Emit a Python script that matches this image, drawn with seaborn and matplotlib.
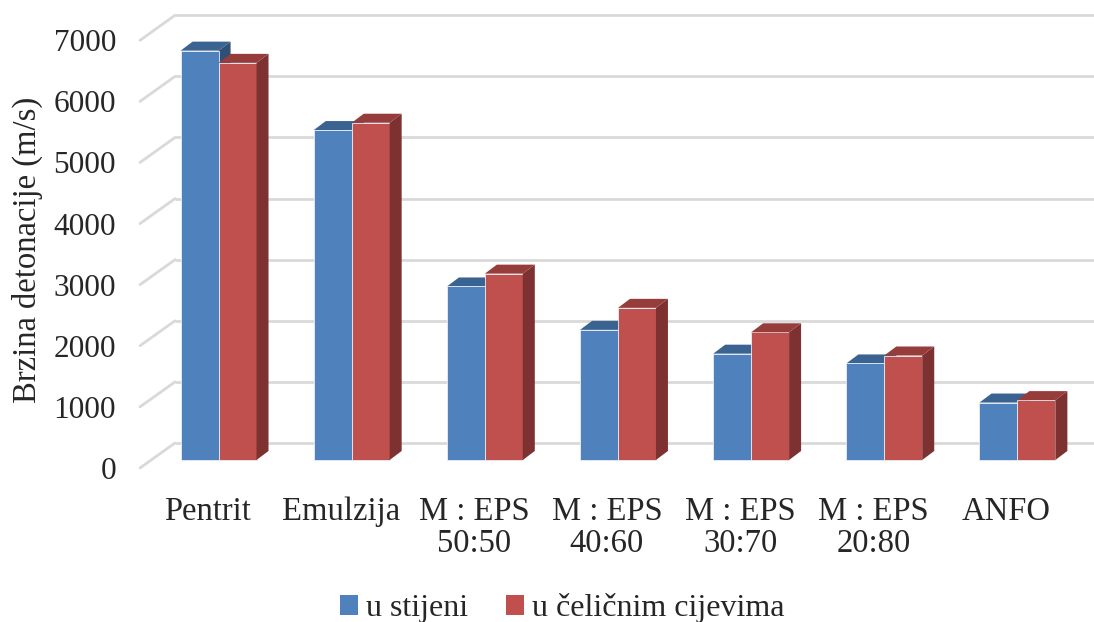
import numpy as np
import pandas as pd
import matplotlib
matplotlib.use("Agg")
import matplotlib.pyplot as plt
from matplotlib.patches import Polygon, Patch
from matplotlib.transforms import ScaledTranslation, IdentityTransform
import seaborn as sns

categories = ["Pentrit", "Emulzija", "M : EPS\n50:50", "M : EPS\n40:60",
              "M : EPS\n30:70", "M : EPS\n20:80", "ANFO"]
u_stijeni = [6700, 5400, 2840, 2130, 1740, 1580, 940]
u_celicnim = [6500, 5520, 3050, 2490, 2090, 1710, 980]
series = ["u stijeni", "u čeličnim cijevima"]
yticks = [0, 1000, 2000, 3000, 4000, 5000, 6000, 7000]

df = pd.DataFrame({
    "kat": categories * 2,
    "val": u_stijeni + u_celicnim,
    "serija": [series[0]] * len(categories) + [series[1]] * len(categories),
})

sns.set_style("white")
plt.rcParams["font.family"] = ["Liberation Serif", "DejaVu Serif"]

front_cols = ["#4f81bd", "#c0504d"]
top_cols = ["#3b6391", "#963d3b"]
side_cols = ["#2f4f77", "#7d3131"]

DPI = 100
fig = plt.figure(figsize=(10.94, 6.22), dpi=DPI)
ax = fig.add_axes([152 / 1094, (622 - 470) / 622, (1084 - 152) / 1094, 460 / 622])

sns.barplot(data=df, x="kat", y="val", hue="serija", palette=front_cols,
            width=0.57, ax=ax, legend=False, saturation=1, zorder=1,
            edgecolor="#e8eef7", linewidth=0.6)

ax.set_xlim(-0.5, 6.5)
ax.set_ylim(-164, 7365)
for s in ax.spines.values():
    s.set_visible(False)
ax.set_xlabel("")
ax.set_ylabel("Brzina detonacije (m/s)", fontsize=23.5)
ax.yaxis.set_label_coords(-0.117, 0.478)
ax.set_yticks(yticks)
ax.set_yticklabels([str(v) for v in yticks])
ax.tick_params(axis="y", length=0, pad=26, labelsize=22.5)
ax.tick_params(axis="x", length=0, pad=19, labelsize=23.5)
off_xlab = ScaledTranslation(-11 / DPI, 0, fig.dpi_scale_trans)
for lab in ax.get_xticklabels():
    lab.set_linespacing(1.05)
    lab.set_transform(lab.get_transform() + off_xlab)
off_front = ScaledTranslation(0, -8 / DPI, fig.dpi_scale_trans)
for lab in ax.get_yticklabels():
    lab.set_transform(lab.get_transform() + off_front)
ax.grid(False)

# back-wall gridlines and left floor diagonals
back = ScaledTranslation(23 / DPI, 17 / DPI, fig.dpi_scale_trans)
ax.hlines(yticks, -0.5, 6.52, colors="#d9d9d9", linewidth=2,
          transform=ax.transData + back, zorder=0, clip_on=False)
for v in yticks:
    px, py = ax.transData.transform((-0.5, v))
    ax.add_line(plt.Line2D([px - 12, px + 23], [py - 8, py + 17],
                           transform=IdentityTransform(), color="#d9d9d9",
                           linewidth=2, zorder=0, clip_on=False))

# 3D faces derived from the drawn bars
DX, DY = 12, 9
n = len(categories)
for i, bar in enumerate(ax.patches[:2 * n]):
    si = 0 if i < n else 1
    x0, y0 = bar.get_x(), bar.get_y()
    x1, y1 = x0 + bar.get_width(), y0 + bar.get_height()
    (ax0, ay0) = ax.transData.transform((x0, y0))
    (ax1, ay1) = ax.transData.transform((x1, y1))
    z = 0.8 if si == 0 else 1.2
    top = Polygon([(ax0, ay1), (ax1, ay1), (ax1 + DX, ay1 + DY), (ax0 + DX, ay1 + DY)],
                  closed=True, facecolor=top_cols[si], edgecolor="none",
                  transform=IdentityTransform(), zorder=z, clip_on=False)
    side = Polygon([(ax1, ay0), (ax1, ay1), (ax1 + DX, ay1 + DY), (ax1 + DX, ay0 + DY)],
                   closed=True, facecolor=side_cols[si], edgecolor="none",
                   transform=IdentityTransform(), zorder=z, clip_on=False)
    ax.add_patch(side)
    ax.add_patch(top)

handles = [Patch(facecolor=c, edgecolor="none") for c in front_cols]
fig.legend(handles, series, loc="center", bbox_to_anchor=(0.514, 0.022),
           ncol=2, frameon=False, fontsize=23, handlelength=0.55, handleheight=0.55,
           handletextpad=0.25, columnspacing=1.2, borderpad=0, borderaxespad=0)

fig.savefig("out.png", dpi=DPI)
